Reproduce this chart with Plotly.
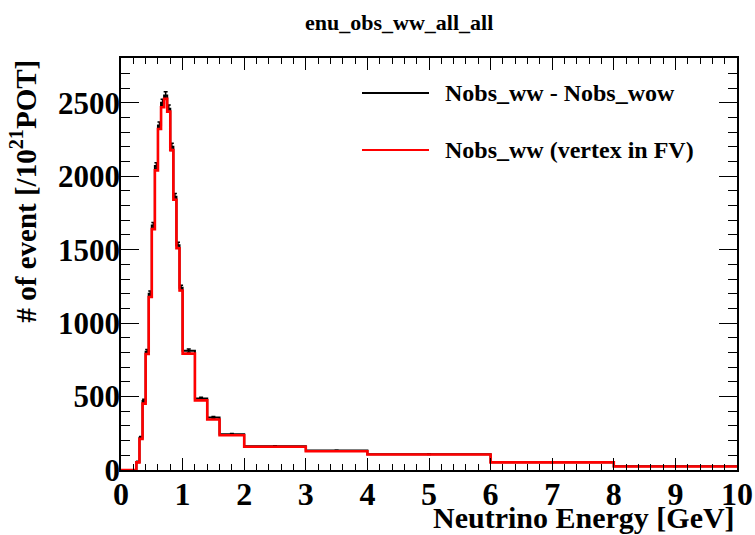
import plotly.graph_objects as go

# Bin edges (GeV)
bin_edges = [0.0, 0.25, 0.30, 0.35, 0.40, 0.45, 0.50, 0.55, 0.60, 0.65, 0.70,
             0.75, 0.80, 0.85, 0.90, 0.95, 1.00, 1.2, 1.4, 1.6, 2.0, 3.0, 4.0,
             6.0, 8.0, 10.0]

# Nobs_ww - Nobs_wow (black)
nobs_diff = [0, 55, 220, 470, 805, 1200, 1665, 2070, 2345, 2500, 2550, 2460,
             2200, 1860, 1530, 1240, 812, 486, 357, 244, 162, 132, 108, 53, 25]
nobs_diff_err = [0, 4, 8, 12, 15, 18, 20, 22, 24, 25, 25, 25, 24, 22, 20, 18,
                 12, 9, 8, 5, 3, 3, 2, 1.5, 1]

# Nobs_ww (vertex in FV) (red)
nobs_fv = [0, 52, 212, 452, 790, 1178, 1640, 2040, 2322, 2470, 2527, 2440,
           2178, 1840, 1510, 1222, 792, 474, 344, 237, 158, 128, 106, 52, 24]

legend_labels = ["Nobs_ww - Nobs_wow", "Nobs_ww (vertex in FV)"]
title_text = "enu_obs_ww_all_all"
x_title = "Neutrino Energy [GeV]"
y_title = "# of event [/10<sup>21</sup>POT]"

FONT = "Liberation Serif"
centers = [(bin_edges[i] + bin_edges[i + 1]) / 2 for i in range(len(bin_edges) - 1)]

fig = go.Figure()
fig.add_trace(go.Scatter(
    x=bin_edges, y=nobs_diff + [nobs_diff[-1]], mode="lines",
    line=dict(color="black", width=2, shape="hv"), showlegend=False,
    hoverinfo="skip"))
fig.add_trace(go.Scatter(
    x=centers, y=nobs_diff, mode="markers", marker=dict(size=1, color="black"),
    error_y=dict(type="data", array=nobs_diff_err, color="black", thickness=1.5, width=2),
    showlegend=False))
fig.add_trace(go.Scatter(
    x=bin_edges, y=nobs_fv + [nobs_fv[-1]], mode="lines",
    line=dict(color="#ff0000", width=2.6, shape="hv"), showlegend=False))

L, R, T, B = 121, 737, 58, 470
W, H = R - L, B - T
def px(x):
    return (x - L) / W
def py(y):
    return (B - y) / H

shapes = [
    dict(type="line", xref="paper", yref="paper", x0=px(362), x1=px(429),
         y0=py(93), y1=py(93), line=dict(color="black", width=2)),
    dict(type="line", xref="paper", yref="paper", x0=px(362), x1=px(429),
         y0=py(150), y1=py(150), line=dict(color="#ff0000", width=2)),
]
annotations = [
    dict(text=legend_labels[0], xref="paper", yref="paper", x=px(443), y=py(93),
         xanchor="left", yanchor="middle", showarrow=False,
         font=dict(family=FONT, size=24, color="black", weight="bold")),
    dict(text=legend_labels[1], xref="paper", yref="paper", x=px(443), y=py(150),
         xanchor="left", yanchor="middle", showarrow=False,
         font=dict(family=FONT, size=24, color="black", weight="bold")),
    dict(text=title_text, xref="paper", yref="paper", x=px(399), y=py(23),
         xanchor="center", yanchor="middle", showarrow=False,
         font=dict(family=FONT, size=22, color="black", weight="bold")),
    dict(text=x_title, xref="paper", yref="paper", x=1.0, y=py(517),
         xanchor="right", yanchor="middle", showarrow=False,
         font=dict(family=FONT, size=30, color="black", weight="bold")),
    dict(text=y_title, xref="paper", yref="paper", x=px(23), y=1.0,
         xanchor="center", yanchor="top", showarrow=False, textangle=-90,
         font=dict(family=FONT, size=29, color="black", weight="bold")),
]

fig.update_layout(
    width=755, height=535,
    margin=dict(l=L, r=755 - R, t=T, b=535 - B, autoexpand=False),
    paper_bgcolor="white", plot_bgcolor="white",
    shapes=shapes, annotations=annotations,
    font=dict(family=FONT, color="black"),
)
fig.update_xaxes(
    range=[0, 10], showgrid=False, zeroline=False, showline=True,
    linecolor="black", linewidth=1.5, mirror="allticks", automargin=False,
    ticks="inside", ticklen=12, tickwidth=1, tickcolor="black",
    dtick=1, tick0=0, ticklabelstandoff=-5,
    minor=dict(ticks="inside", ticklen=6, dtick=0.2, tickcolor="black", tickwidth=1),
    tickfont=dict(family=FONT, size=32, color="black", weight="bold"),
)
fig.update_yaxes(
    range=[0, 2805], showgrid=False, zeroline=False, showline=True,
    linecolor="black", linewidth=1.5, mirror="allticks", automargin=False,
    ticks="inside", ticklen=18, tickwidth=1, tickcolor="black",
    dtick=500, tick0=0, ticklabelstandoff=-7,
    minor=dict(ticks="inside", ticklen=9, dtick=100, tickcolor="black", tickwidth=1),
    tickfont=dict(family=FONT, size=31, color="black", weight="bold"),
)

fig.write_html("out.html")
